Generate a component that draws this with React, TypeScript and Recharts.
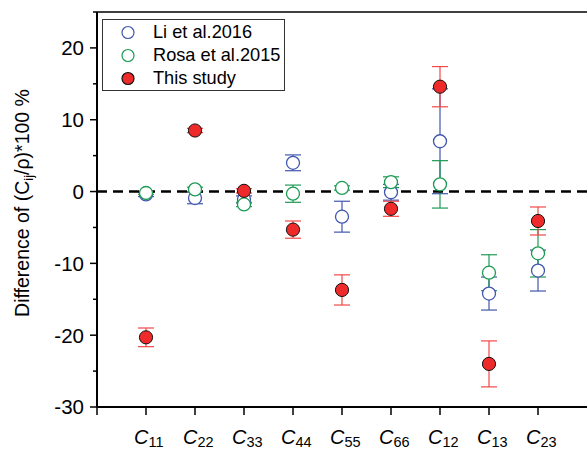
import { ScatterChart, Scatter, XAxis, YAxis, ErrorBar, ReferenceLine } from 'recharts';

const categories = ['11', '22', '33', '44', '55', '66', '12', '13', '23'];
const xTicks = [0, 1, 2, 3, 4, 5, 6, 7, 8, 9];
const yTicks = [-30, -25, -20, -15, -10, -5, 0, 5, 10, 15, 20, 25];

const liValues = [-0.4, -0.9, -1.1, 4.0, -3.5, -0.1, 7.0, -14.2, -11.0];
const liErrors = [0.3, 0.8, 0.5, 1.1, 2.15, 1.1, 7.3, 2.3, 2.85];

const rosaValues = [-0.2, 0.3, -1.8, -0.3, 0.5, 1.3, 1.0, -11.3, -8.6];
const rosaErrors = [0.2, 0.3, 0.3, 1.2, 0.3, 0.75, 3.3, 2.5, 3.3];

const studyValues = [-20.3, 8.5, 0.1, -5.3, -13.7, -2.4, 14.6, -24.0, -4.1];
const studyErrors = [1.3, 0.3, 0.3, 1.2, 2.1, 1.05, 2.8, 3.2, 1.95];

const FONT = '"Liberation Sans", Arial, sans-serif';
const BLUE = '#4257ae';
const GREEN = '#1f9a55';
const RED = '#ee2a2a';

const toPoints = (values: number[], errors: number[]) =>
    values.map((v, i) => ({ x: i + 1, y: v, err: errors[i] }));

const liData = toPoints(liValues, liErrors);
const rosaData = toPoints(rosaValues, rosaErrors);
const studyData = toPoints(studyValues, studyErrors);

const legendItems = [
    { name: 'Li et al.2016', color: BLUE, filled: false },
    { name: 'Rosa et al.2015', color: GREEN, filled: false },
    { name: 'This study', color: RED, filled: true },
];

const OpenCircle = (color: string) => (props: any) => (
    <circle cx={props.cx} cy={props.cy} r={6.5} fill="#fff" stroke={color} strokeWidth={1.3} />
);

const FilledCircle = (props: any) => (
    <circle cx={props.cx} cy={props.cy} r={6.6} fill={RED} stroke="#111" strokeWidth={1} />
);

const XTick = (props: any) => {
    const { x, y, payload } = props;
    const label = categories[payload.value - 1];
    return (
        <g>
            <line x1={x} y1={y} x2={x} y2={y + 8} stroke="#000" strokeWidth={1.5} />
            {label && (
                <text x={x - 12} y={y + 37} fontFamily={FONT} fill="#000" textAnchor="start">
                    <tspan fontSize={20} fontStyle="italic">C</tspan>
                    <tspan fontSize={14.5} dy={3}>{label}</tspan>
                </text>
            )}
        </g>
    );
};

const YTick = (props: any) => {
    const { x, y, payload } = props;
    const major = payload.value % 10 === 0;
    return (
        <g>
            <line x1={x - (major ? 7 : 4)} y1={y} x2={x} y2={y} stroke="#000" strokeWidth={1.5} />
            {major && (
                <text x={x - 13} y={y} dy="0.36em" fontFamily={FONT} fontSize={20.5} fill="#000" textAnchor="end">
                    {payload.value}
                </text>
            )}
        </g>
    );
};

const YLabel = () => (
    <text
        x={29}
        y={203}
        transform="rotate(-90, 29, 203)"
        fontFamily={FONT}
        fontSize={19.5}
        fill="#000"
        textAnchor="middle"
    >
        Difference of (C
        <tspan fontSize={13} dy={4}>ij</tspan>
        <tspan dy={-4}>/ρ)*100 %</tspan>
    </text>
);

const LegendBox = () => (
    <div
        style={{
            position: 'absolute',
            left: 102,
            top: 19,
            border: '1px solid #333',
            width: 183,
            height: 72,
            background: '#fff',
            fontFamily: FONT,
            fontSize: 18.2,
            boxSizing: 'border-box',
            paddingTop: 1,
        }}
    >
        {legendItems.map((item) => (
            <div key={item.name} style={{ display: 'flex', alignItems: 'center', height: 23 }}>
                <svg width={50} height={23}>
                    <circle
                        cx={25}
                        cy={11.5}
                        r={6}
                        fill={item.filled ? item.color : '#fff'}
                        stroke={item.filled ? '#111' : item.color}
                        strokeWidth={1.2}
                    />
                </svg>
                <span style={{ color: '#000', whiteSpace: 'nowrap' }}>{item.name}</span>
            </div>
        ))}
    </div>
);

export default function App() {
    return (
        <div style={{ position: 'absolute', left: 0, top: 0, width: 588, height: 451, background: '#fff' }}>
            <ScatterChart width={588} height={451} margin={{ top: 12, right: 1, left: 0, bottom: 0 }}>
                <XAxis
                    type="number"
                    dataKey="x"
                    domain={[0, 10]}
                    ticks={xTicks}
                    interval={0}
                    height={44}
                    tickSize={0}
                    tickMargin={0}
                    tickLine={false}
                    tick={<XTick />}
                    axisLine={{ stroke: '#000', strokeWidth: 2 }}
                />
                <YAxis
                    type="number"
                    dataKey="y"
                    domain={[-30, 25]}
                    ticks={yTicks}
                    interval={0}
                    width={97}
                    tickSize={0}
                    tickMargin={0}
                    tickLine={false}
                    tick={<YTick />}
                    axisLine={{ stroke: '#000', strokeWidth: 2 }}
                    label={<YLabel />}
                />
                <ReferenceLine y={25} stroke="#000" strokeWidth={1.6} />
                <Scatter name="Li et al.2016" data={liData} shape={OpenCircle(BLUE)} isAnimationActive={false}>
                    <ErrorBar dataKey="err" direction="y" width={8} stroke={BLUE} strokeWidth={1.2} />
                </Scatter>
                <Scatter name="Rosa et al.2015" data={rosaData} shape={OpenCircle(GREEN)} isAnimationActive={false}>
                    <ErrorBar dataKey="err" direction="y" width={8} stroke={GREEN} strokeWidth={1.2} />
                </Scatter>
                <ReferenceLine y={0} stroke="#000" strokeWidth={2.5} strokeDasharray="10 6" />
                <Scatter name="This study" data={studyData} shape={FilledCircle} isAnimationActive={false}>
                    <ErrorBar dataKey="err" direction="y" width={8} stroke="#f24848" strokeWidth={1.2} />
                </Scatter>
            </ScatterChart>
            <LegendBox />
        </div>
    );
}
